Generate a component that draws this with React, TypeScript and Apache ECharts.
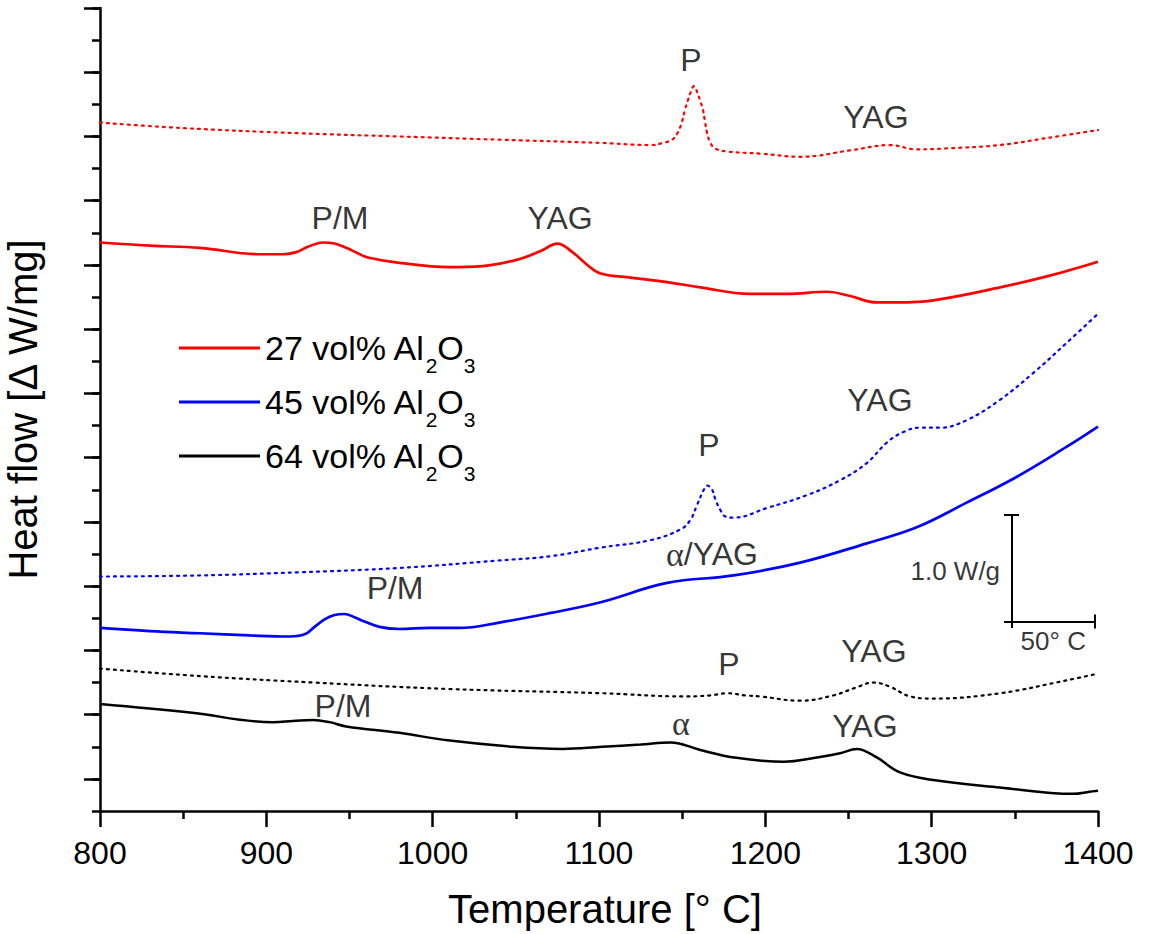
import React, { useEffect, useRef } from "react";
import * as echarts from "echarts";

const FONT = "'Liberation Sans', Arial, Helvetica, sans-serif";
const SERIF = "'Liberation Serif', 'Times New Roman', serif";

// Temperature axis (°C)
const T_MIN = 800;
const T_MAX = 1400;
const T_STEP = 100;

// Heat-flow axis in W/g (unlabelled, a tick every 0.3 W/g, long ticks on odd steps)
const HF_MIN = 0;
const HF_MAX = 7.5;
const HF_STEP = 0.3;
const HF_MAJOR_SLOTS = Array.from({ length: 26 }, (_, i) => String(i));

const legendNames = ["27 vol% Al2O3", "45 vol% Al2O3", "64 vol% Al2O3"];

// [temperature °C, heat flow W/g]
const al27Dotted: [number, number][] = [
  [800, 6.43], [848, 6.38], [920, 6.33], [980, 6.3], [1040, 6.27], [1101, 6.24],
  [1131, 6.22], [1138.5, 6.24], [1143.9, 6.27], [1147.5, 6.34], [1149.9, 6.44],
  [1151.7, 6.55], [1153.5, 6.64], [1155.3, 6.72], [1157.1, 6.77], [1158.9, 6.72],
  [1160.7, 6.64], [1162.5, 6.55], [1163.7, 6.44], [1164.9, 6.34], [1166.7, 6.25],
  [1169.7, 6.19], [1177, 6.16], [1197, 6.14], [1221, 6.11], [1251, 6.17],
  [1275, 6.22], [1291, 6.18], [1311, 6.19], [1341, 6.22], [1371, 6.29], [1400, 6.36],
];

const al27Solid: [number, number][] = [
  [800, 5.31], [830, 5.28], [860, 5.26], [896, 5.2], [910, 5.2], [918, 5.22],
  [925, 5.27], [934, 5.31], [941, 5.3], [948, 5.26], [955, 5.21], [961, 5.17],
  [980, 5.12], [1010, 5.08], [1030, 5.09], [1051, 5.15], [1065, 5.23], [1075, 5.3],
  [1084, 5.22], [1093, 5.1], [1101, 5.02], [1120, 4.98], [1141, 4.94], [1161, 4.89],
  [1191, 4.83], [1213, 4.83], [1237, 4.85], [1251, 4.81], [1267, 4.75], [1279, 4.75],
  [1301, 4.77], [1341, 4.89], [1371, 5.0], [1400, 5.13],
];

const al45Dotted: [number, number][] = [
  [800, 2.19], [860, 2.2], [920, 2.23], [980, 2.27], [1040, 2.34], [1071, 2.38],
  [1101, 2.46], [1131, 2.53], [1149, 2.63], [1155, 2.72], [1159, 2.86], [1163, 3.0],
  [1165, 3.04], [1168, 3.0], [1170, 2.91], [1173, 2.81], [1176, 2.75], [1181, 2.74],
  [1201, 2.83], [1225, 2.95], [1245, 3.09], [1261, 3.25], [1273, 3.44], [1283, 3.54],
  [1293, 3.58], [1305, 3.58], [1321, 3.65], [1341, 3.84], [1361, 4.09], [1381, 4.37],
  [1399, 4.63],
];

const al45Solid: [number, number][] = [
  [800, 1.71], [830, 1.68], [860, 1.66], [890, 1.64], [914, 1.63], [923, 1.65],
  [929, 1.72], [935, 1.79], [941, 1.83], [947, 1.84], [953, 1.81], [959, 1.77],
  [968, 1.72], [980, 1.7], [998, 1.71], [1016, 1.71], [1040, 1.76], [1071, 1.85],
  [1101, 1.95], [1141, 2.13], [1181, 2.2], [1221, 2.32], [1261, 2.5], [1291, 2.65],
  [1321, 2.88], [1351, 3.12], [1381, 3.4], [1400, 3.59],
];

const al64Dotted: [number, number][] = [
  [800, 1.33], [860, 1.26], [928, 1.2], [1009, 1.14], [1102, 1.1], [1151, 1.07],
  [1167, 1.08], [1177, 1.1], [1188, 1.08], [1197, 1.07], [1221, 1.03], [1241, 1.08],
  [1254, 1.15], [1265, 1.2], [1275, 1.16], [1287, 1.07], [1301, 1.05], [1341, 1.1],
  [1381, 1.22], [1399, 1.28],
];

const al64Solid: [number, number][] = [
  [800, 1.0], [854, 0.92], [904, 0.83], [916, 0.84], [928, 0.85], [938, 0.83],
  [948, 0.79], [980, 0.73], [1009, 0.66], [1048, 0.6], [1078, 0.58], [1102, 0.6],
  [1125, 0.62], [1143, 0.64], [1161, 0.57], [1181, 0.5], [1211, 0.46], [1231, 0.5],
  [1245, 0.54], [1255, 0.58], [1267, 0.5], [1281, 0.36], [1301, 0.29], [1341, 0.22],
  [1385, 0.16], [1395, 0.18], [1400, 0.19],
];

// Peak annotations placed in data coordinates [°C, W/g]
const peakLabels: { text: string; t: number; hf: number }[] = [
  { text: "P", t: 1155.3, hf: 7.01 },
  { text: "YAG", t: 1266.5, hf: 6.48 },
  { text: "P/M", t: 944.3, hf: 5.54 },
  { text: "YAG", t: 1076.6, hf: 5.54 },
  { text: "YAG", t: 1268.9, hf: 3.84 },
  { text: "P", t: 1166.1, hf: 3.42 },
  { text: "{g|α}/YAG", t: 1167.9, hf: 2.4 },
  { text: "P/M", t: 977.4, hf: 2.08 },
  { text: "YAG", t: 1265.3, hf: 1.49 },
  { text: "P", t: 1178.1, hf: 1.37 },
  { text: "P/M", t: 946.1, hf: 0.98 },
  { text: "{g|α}", t: 1149.3, hf: 0.82 },
  { text: "YAG", t: 1259.9, hf: 0.79 },
];

// Scale bar: 50 °C wide, 1.0 W/g tall
const scaleOrigin: [number, number] = [1348, 1.77];
const scaleWidthC = 50;
const scaleHeightWg = 1.0;
const scaleLabels: { text: string; t: number; hf: number }[] = [
  { text: "1.0 W/g", t: 1314.2, hf: 2.24 },
  { text: "50° C", t: 1373.1, hf: 1.59 },
];

function buildOption(): echarts.EChartsOption {
  const [sx, sy] = scaleOrigin;
  const capC = 4.5;
  const capW = 0.065;
  const scaleSegments = [
    [[sx, sy - 0.06], [sx, sy + scaleHeightWg]],
    [[sx - capC, sy + scaleHeightWg], [sx + capC, sy + scaleHeightWg]],
    [[sx - capC, sy], [sx + scaleWidthC, sy]],
    [[sx + scaleWidthC, sy - capW], [sx + scaleWidthC, sy + capW]],
  ];

  const curve = (
    name: string,
    data: [number, number][],
    color: string,
    width: number,
    dotted: boolean
  ): echarts.SeriesOption => ({
    type: "line",
    name,
    data,
    symbol: "none",
    smooth: 0.4,
    color,
    lineStyle: {
      color,
      width,
      type: dotted ? [2, 5] : "solid",
      cap: dotted ? "round" : "butt",
    },
    silent: true,
    z: 3,
  });

  const subRich = {
    n: { fontSize: 34, lineHeight: 56, verticalAlign: "middle", fontFamily: FONT, color: "#000" },
    sub: { fontSize: 21, lineHeight: 6, verticalAlign: "bottom", fontFamily: FONT, color: "#000" },
  };

  return {
    animation: false,
    backgroundColor: "#ffffff",
    grid: { left: 100, right: 60, top: 8, bottom: 123, outerBoundsMode: "none" } as any,
    legend: {
      data: legendNames.map((name) => ({ name, icon: "rect" })),
      orient: "vertical",
      left: 179,
      top: 331,
      padding: 0,
      itemWidth: 81,
      itemHeight: 3,
      itemGap: 9,
      selectedMode: false,
      formatter: (name: string) => {
        const head = name.replace("Al2O3", "");
        return `{n|${head}Al}{sub|2}{n|O}{sub|3}`;
      },
      textStyle: { fontSize: 34, fontFamily: FONT, color: "#000", rich: subRich as any },
    },
    xAxis: {
      type: "value",
      min: T_MIN,
      max: T_MAX,
      interval: T_STEP,
      name: "Temperature [° C]",
      nameLocation: "middle",
      nameGap: 78,
      nameTextStyle: { fontSize: 40, fontFamily: FONT, color: "#000", padding: [0, 0, 0, 12] },
      axisLine: { show: true, onZero: false, lineStyle: { color: "#000", width: 2.5 } },
      axisTick: { show: true, length: 16, lineStyle: { color: "#000", width: 2.5 } },
      minorTick: { show: true, splitNumber: 2, length: 8, lineStyle: { color: "#000", width: 2.5 } },
      axisLabel: {
        fontSize: 32,
        fontFamily: FONT,
        color: "#000",
        margin: 26,
        formatter: (v: number) => String(v),
      },
      splitLine: { show: false },
    },
    yAxis: [
      {
        type: "value",
        min: HF_MIN,
        max: HF_MAX,
        interval: HF_STEP,
        name: "Heat flow [Δ W/mg]",
        nameLocation: "middle",
        nameGap: 57,
        nameTextStyle: { fontSize: 40, fontFamily: FONT, color: "#000" },
        axisLine: { show: true, onZero: false, lineStyle: { color: "#000", width: 2.5 } },
        axisTick: { show: true, length: 8, lineStyle: { color: "#000", width: 2.5 } },
        axisLabel: { show: false },
        splitLine: { show: false },
      },
      {
        type: "category",
        data: HF_MAJOR_SLOTS,
        boundaryGap: false,
        position: "left",
        axisLine: { show: false },
        axisTick: {
          show: true,
          length: 16,
          interval: (index: number) => index % 2 === 1,
          lineStyle: { color: "#000", width: 2.5 },
        },
        axisLabel: { show: false },
        splitLine: { show: false },
      },
    ],
    series: [
      curve(legendNames[0] + " ·", al27Dotted, "#ff0000", 2.2, true),
      curve(legendNames[0], al27Solid, "#ff0000", 2.7, false),
      curve(legendNames[1] + " ·", al45Dotted, "#0000ff", 2.2, true),
      curve(legendNames[1], al45Solid, "#0000ff", 2.7, false),
      curve(legendNames[2] + " ·", al64Dotted, "#000000", 2.2, true),
      curve(legendNames[2], al64Solid, "#000000", 2.5, false),
      {
        type: "lines",
        coordinateSystem: "cartesian2d",
        polyline: false,
        silent: true,
        data: scaleSegments.map((coords) => ({ coords })),
        lineStyle: { color: "#000", width: 2, opacity: 1 },
        z: 4,
      } as any,
      {
        type: "scatter",
        silent: true,
        symbolSize: 1,
        itemStyle: { color: "transparent" },
        data: peakLabels.map((p) => ({
          value: [p.t, p.hf],
          label: { formatter: p.text },
        })),
        label: {
          show: true,
          position: "inside",
          fontSize: 32,
          fontFamily: FONT,
          color: "#000",
          textBorderWidth: 0,
          rich: { g: { fontSize: 34, fontFamily: SERIF, color: "#000" } },
        },
        z: 5,
      },
      {
        type: "scatter",
        silent: true,
        symbolSize: 1,
        itemStyle: { color: "transparent" },
        data: scaleLabels.map((p) => ({
          value: [p.t, p.hf],
          label: { formatter: p.text },
        })),
        label: {
          show: true,
          position: "inside",
          fontSize: 26,
          fontFamily: FONT,
          color: "#000",
          textBorderWidth: 0,
        },
        z: 5,
      },
    ],
  };
}

export default function App() {
  const ref = useRef<HTMLDivElement>(null);

  useEffect(() => {
    if (!ref.current) return;
    const chart = echarts.init(ref.current, undefined, { renderer: "svg" });
    chart.setOption(buildOption());
    return () => chart.dispose();
  }, []);

  return (
    <div
      ref={ref}
      style={{ position: "fixed", left: 0, top: 0, width: 1158, height: 934, background: "#fff" }}
    />
  );
}
